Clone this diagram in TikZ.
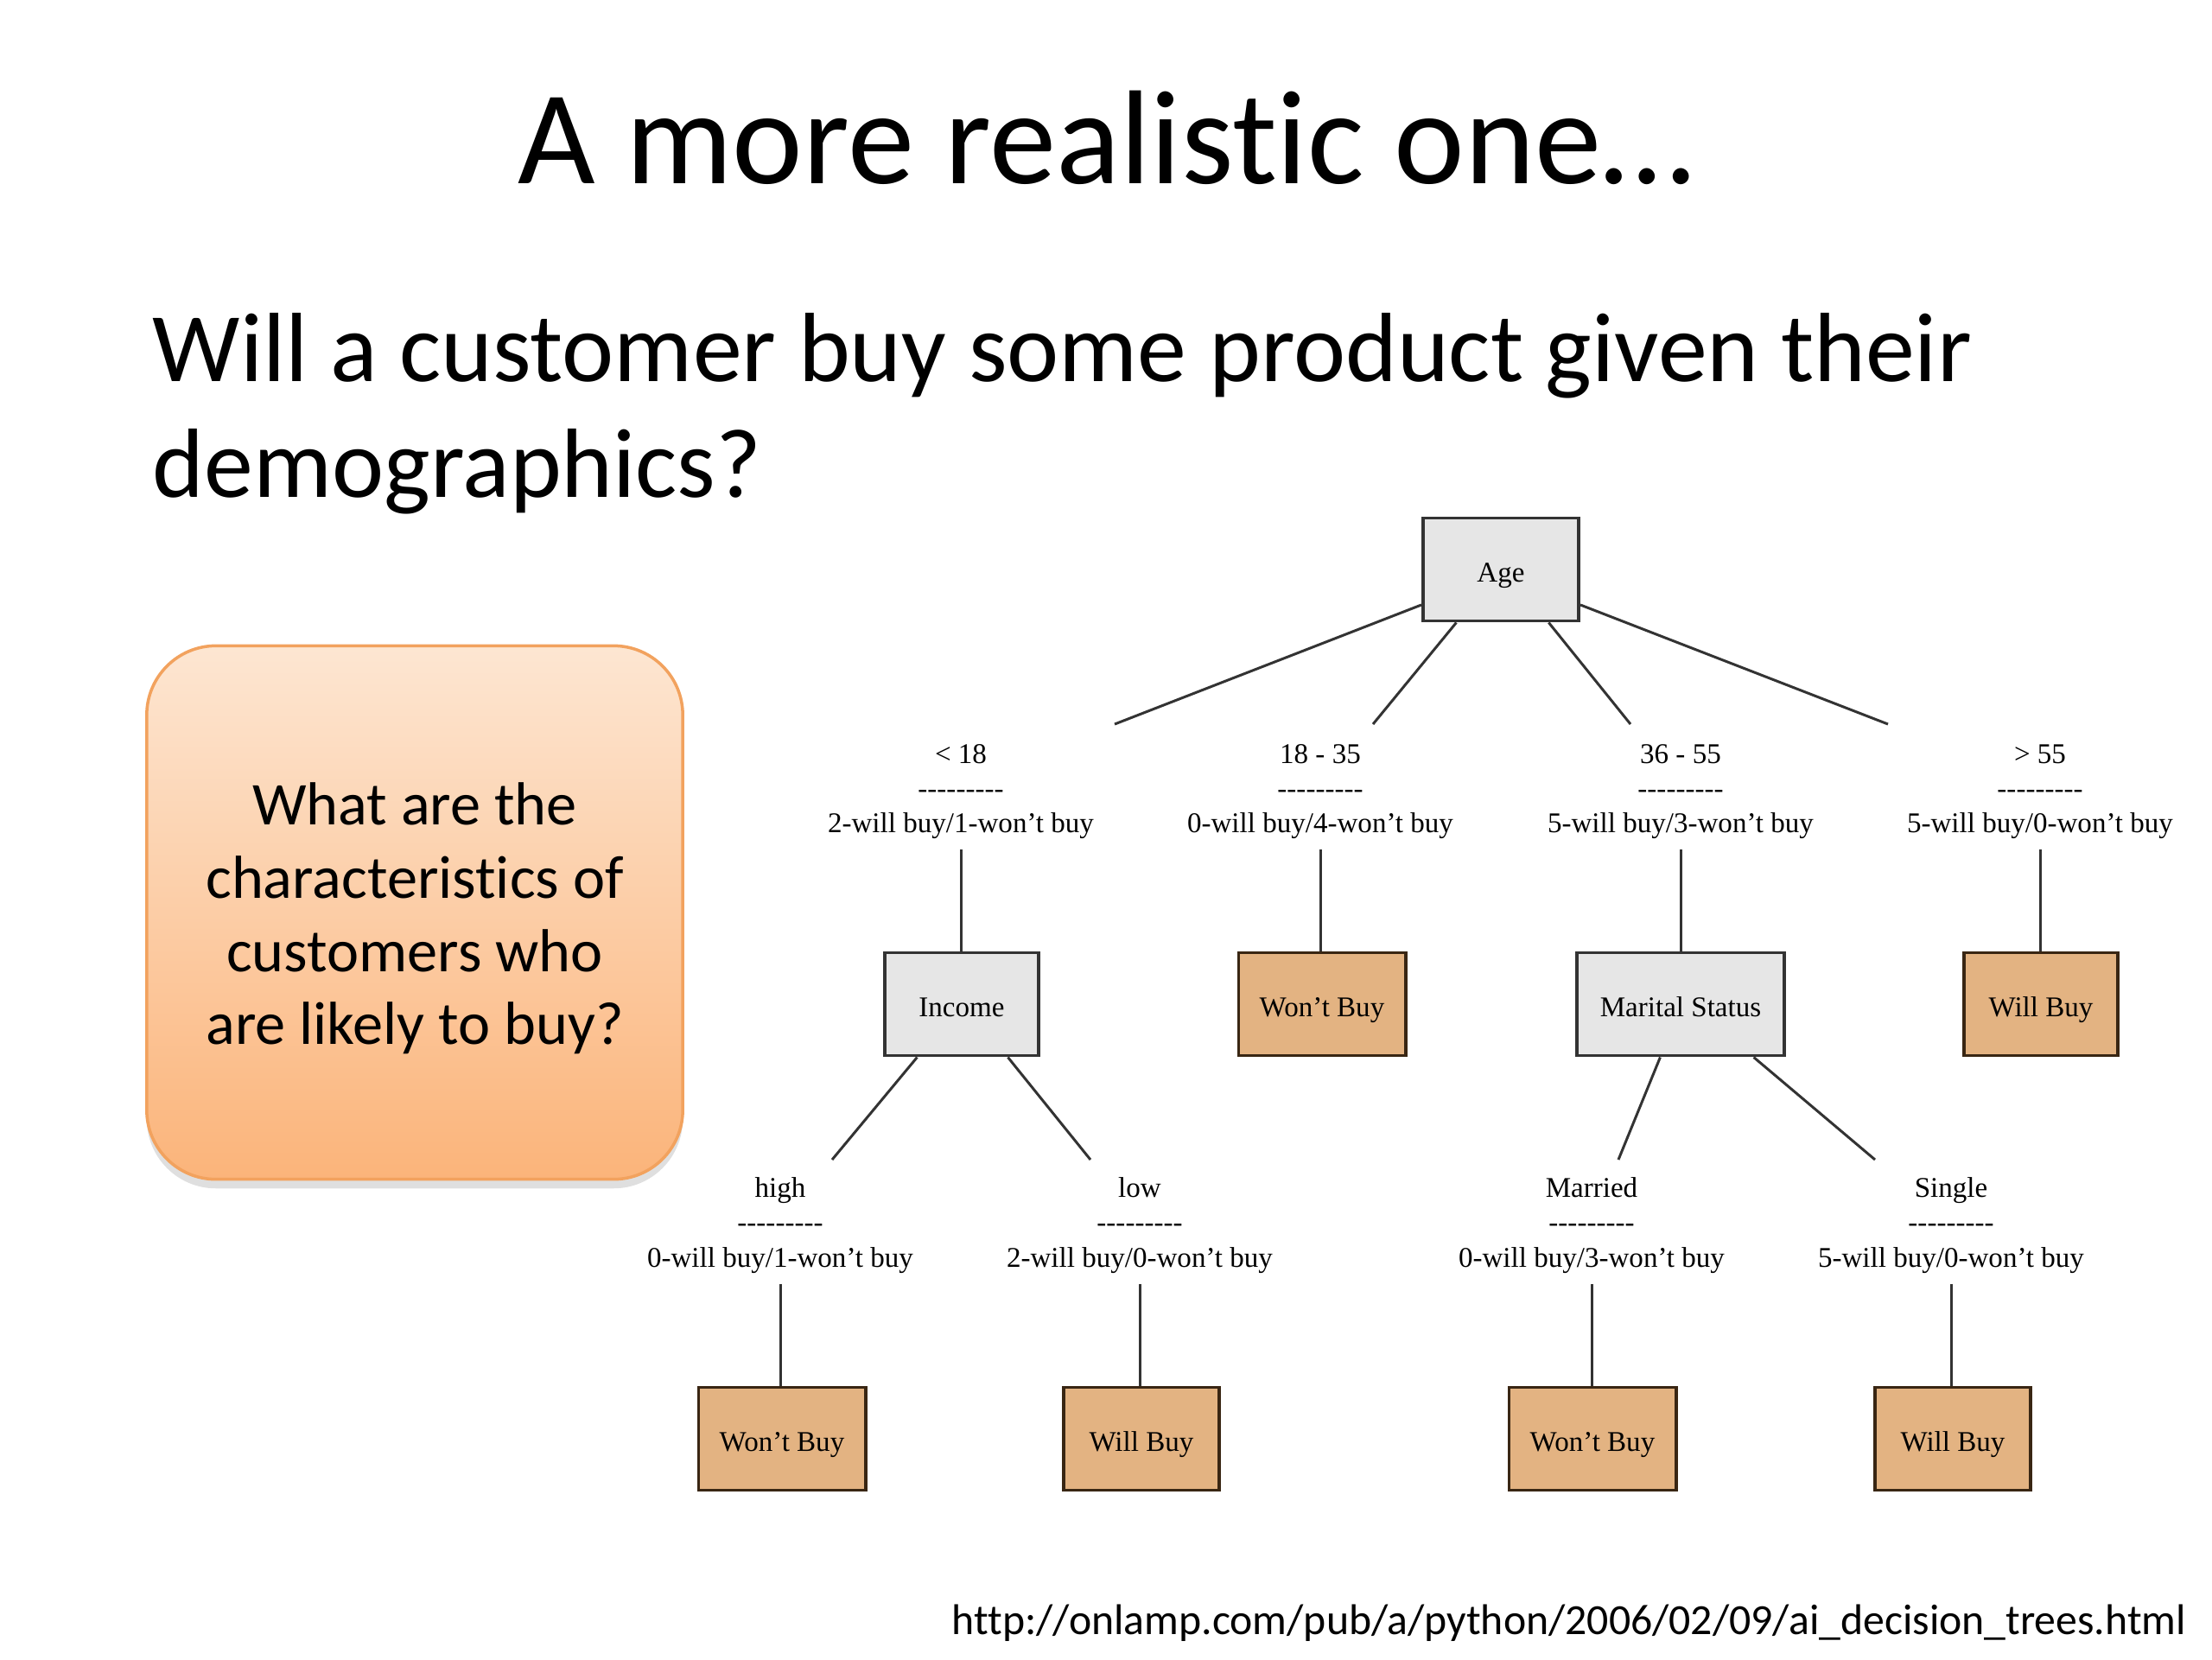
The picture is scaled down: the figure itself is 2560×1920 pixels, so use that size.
\documentclass[tikz,border=0pt]{standalone}
\usepackage{fontspec}
\setmainfont{Carlito}[Ligatures={NoCommon}]
\newfontfamily\treefont{Liberation Serif}[Ligatures=TeX]
\usepackage{tikz}
\usetikzlibrary{positioning, calc, shadows}
\definecolor{leafc}{HTML}{E3B382}
\definecolor{attrc}{HTML}{E6E6E6}
\definecolor{qtop}{HTML}{FDE6D2}
\definecolor{qbot}{HTML}{FBB47A}
\definecolor{qedge}{HTML}{F2A25E}
\newcommand{\hyphrow}{-\kern0pt-\kern0pt-\kern0pt-\kern0pt-\kern0pt-\kern0pt-\kern0pt-\kern0pt-}
\tikzset{
  attr/.style={draw=black!80, fill=attrc, line width=1.1pt, minimum height=1.19cm, inner sep=0pt,
               text height=0.8em, text depth=0pt, font=\treefont\fontsize{9.4}{11}\selectfont},
  leaf/.style={attr, fill=leafc, draw=black!70!brown},
  branch/.style={align=center, font=\treefont\fontsize{9.4}{11.4}\selectfont},
  edge/.style={draw=black!80, line width=0.85pt}
}

\begin{document}
\begin{tikzpicture}[x=0.01cm, y=-0.01cm]
    \useasboundingbox (0,0) rectangle (2560,1920);
    % slide text
    \node[anchor=base] (title) at (1280,212) {\fontsize{44}{52}\selectfont A more realistic one\ldots};
    \node[anchor=base west, inner sep=0pt] (sub1) at (176,441) {\fontsize{32.4}{38}\selectfont Will a customer buy some product given their};
    \node[anchor=base west, inner sep=0pt] (sub2) at (176,575) {\fontsize{32.4}{38}\selectfont demographics?};
    \node[draw=qedge, line width=1pt, rounded corners=0.8cm, top color=qtop, bottom color=qbot,
          minimum width=6.2cm, minimum height=6.17cm,
          drop shadow={shadow xshift=0pt, shadow yshift=-3pt, opacity=0.25}] (question) at (480,1056) {};
    \node[align=center, font=\fontsize{20}{24.1}\selectfont] (qtext) at (480,1063)
          {What are the\\characteristics of\\customers who\\are likely to buy?};

    % decision tree
    \node[attr, minimum width=1.8cm] (age) at (1737,659) {Age};
    \node[attr, minimum width=1.78cm] (income) at (1113,1162) {Income};
    \node[leaf, minimum width=1.93cm] (young) at (1530,1162) {Won't Buy};
    \node[attr, minimum width=2.4cm] (marital) at (1945,1162) {Marital Status};
    \node[leaf, minimum width=1.78cm] (old) at (2362,1162) {Will Buy};
    \node[leaf, minimum width=1.93cm] (highleaf) at (905,1665) {Won't Buy};
    \node[leaf, minimum width=1.8cm] (lowleaf) at (1321,1665) {Will Buy};
    \node[leaf, minimum width=1.93cm] (marleaf) at (1843,1665) {Won't Buy};
    \node[leaf, minimum width=1.8cm] (sinleaf) at (2260,1665) {Will Buy};

    \node[branch] (bu18) at (1112,916) {< 18\\\hyphrow\\2-will buy/1-won't buy};
    \node[branch] (b1835) at (1528,916) {18 - 35\\\hyphrow\\0-will buy/4-won't buy};
    \node[branch] (b3655) at (1945,916) {36 - 55\\\hyphrow\\5-will buy/3-won't buy};
    \node[branch] (bo55) at (2361,916) {> 55\\\hyphrow\\5-will buy/0-won't buy};
    \node[branch] (bhigh) at (903,1418) {high\\\hyphrow\\0-will buy/1-won't buy};
    \node[branch] (blow) at (1319,1418) {low\\\hyphrow\\2-will buy/0-won't buy};
    \node[branch] (bmar) at (1842,1418) {Married\\\hyphrow\\0-will buy/3-won't buy};
    \node[branch] (bsin) at (2258,1418) {Single\\\hyphrow\\5-will buy/0-won't buy};

    \coordinate (eu18) at (1290,838);
    \coordinate (e1835) at (1589,838);
    \coordinate (e3655) at (1887,838);
    \coordinate (eo55) at (2185,838);
    \coordinate (ehigh) at (963,1342);
    \coordinate (elow) at (1262,1342);
    \coordinate (emar) at (1873,1342);
    \coordinate (esin) at (2170,1342);

    \draw[edge] (age.204) -- (eu18);
    \draw[edge] (age.230) -- (e1835);
    \draw[edge] (age.312) -- (e3655);
    \draw[edge] (age.336) -- (eo55);
    \draw[edge] (income.230) -- (ehigh);
    \draw[edge] (income.311) -- (elow);
    \draw[edge] (marital.249) -- (emar);
    \draw[edge] (marital.324) -- (esin);

    \draw[edge] (bu18.south) -- (income.north -| bu18.south);
    \draw[edge] (b1835.south) -- (young.north -| b1835.south);
    \draw[edge] (b3655.south) -- (marital.north -| b3655.south);
    \draw[edge] (bo55.south) -- (old.north -| bo55.south);
    \draw[edge] (bhigh.south) -- (highleaf.north -| bhigh.south);
    \draw[edge] (blow.south) -- (lowleaf.north -| blow.south);
    \draw[edge] (bmar.south) -- (marleaf.north -| bmar.south);
    \draw[edge] (bsin.south) -- (sinleaf.north -| bsin.south);

    \node[anchor=base east, inner sep=0pt] (src) at (2531,1891) {\fontsize{14.15}{17}\selectfont http://onlamp.com/pub/a/python/2006/02/09/ai\_decision\_trees.html};
\end{tikzpicture}
\end{document}
